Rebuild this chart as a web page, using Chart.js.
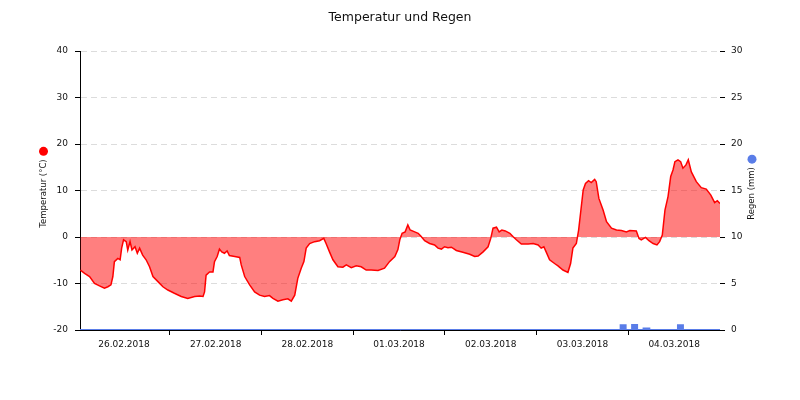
<!DOCTYPE html>
<html>
<head>
<meta charset="utf-8">
<script src="https://cdn.jsdelivr.net/npm/chart.js@4.4.0/dist/chart.umd.min.js"></script>
<style>
  html, body { margin: 0; padding: 0; background: #fff; }
</style>
</head>
<body>
<canvas id="chart" width="800" height="400"></canvas>
<script>
// -------- Data --------
const dayLabels = ['26.02.2018', '27.02.2018', '28.02.2018', '01.03.2018', '02.03.2018', '03.03.2018', '04.03.2018'];

// hours since 26.02.2018 00:00
const tempHours = [
  0.6, 1.7, 3.0, 4.3, 5.6, 6.9, 7.8, 8.6, 9.1, 9.5, 10.4, 11.0, 11.4, 11.9, 12.6, 13.0, 13.6, 14.1, 14.9, 15.5,
  16.1, 16.9, 17.8, 18.7, 19.6, 20.9, 22.2, 23.5, 25.2, 27.0, 28.7, 30.5, 31.8, 32.7, 33.1, 33.5, 34.4, 35.3, 35.7, 36.4,
  37.0, 37.6, 38.3, 39.0, 39.6, 41.0, 42.3, 42.7, 43.6, 44.9, 46.2, 47.5, 48.8, 50.1, 51.0, 52.3, 53.6, 54.9, 55.8, 56.7,
  57.5, 58.4, 59.1, 59.7, 60.6, 61.9, 63.2, 64.3, 64.9, 65.8, 66.7, 68.0, 69.3, 70.2, 71.5, 72.8, 74.1, 75.4, 76.7, 78.5,
  80.2, 81.5, 82.9, 83.7, 84.2, 84.8, 85.6, 86.3, 86.9, 88.1, 89.0, 89.8, 90.7, 92.0, 93.3, 94.2, 95.1, 95.9, 96.8, 97.7,
  99.0, 100.7, 102.5, 103.8, 104.7, 106.0, 107.3, 108.0, 108.6, 109.5, 110.2, 110.9, 111.8, 113.0, 113.8, 114.7, 116.0, 117.8, 119.1, 120.4,
  121.2, 121.9, 122.5, 123.4, 124.7, 125.6, 126.9, 128.2, 128.9, 129.5, 130.4, 131.0, 131.6, 132.2, 132.8, 133.6, 134.3, 135.2, 135.6, 136.3,
  137.4, 138.3, 139.6, 140.9, 142.2, 143.5, 144.4, 146.1, 146.8, 147.4, 148.5, 149.4, 150.5, 151.5, 152.2, 152.9, 153.6, 154.4, 155.1, 155.7,
  156.2, 157.0, 157.7, 158.3, 159.1, 159.7, 160.5, 161.8, 163.1, 164.4, 165.6, 166.6, 167.3, 168.0
];
const tempValues = [
  -7.1, -7.8, -8.5, -10.0, -10.5, -11.0, -10.7, -10.3, -8.5, -5.3, -4.6, -4.9, -2.4, -0.6, -1.0, -2.8, -1.0, -2.8, -2.1, -3.5,
  -2.4, -3.9, -4.9, -6.4, -8.5, -9.6, -10.7, -11.4, -12.1, -12.8, -13.2, -12.8, -12.7, -12.8, -11.8, -8.2, -7.5, -7.5, -5.3, -4.2,
  -2.6, -3.2, -3.5, -3.0, -4.0, -4.2, -4.4, -6.0, -8.5, -10.3, -11.8, -12.5, -12.8, -12.6, -13.2, -13.8, -13.5, -13.3, -13.8, -12.5,
  -8.9, -6.7, -5.3, -2.4, -1.4, -1.0, -0.8, -0.3, -1.4, -3.2, -4.9, -6.4, -6.5, -6.0, -6.6, -6.2, -6.4, -7.1, -7.1, -7.2,
  -6.7, -5.3, -4.2, -2.7, -0.6, 0.8, 1.1, 2.6, 1.5, 1.1, 0.8, 0.1, -0.8, -1.4, -1.7, -2.4, -2.6, -2.1, -2.3, -2.2,
  -2.9, -3.3, -3.7, -4.2, -4.1, -3.2, -2.1, -0.3, 1.9, 2.1, 1.1, 1.5, 1.3, 0.8, 0.1, -0.6, -1.5, -1.5, -1.4, -1.7,
  -2.4, -2.1, -3.2, -4.9, -5.7, -6.2, -7.1, -7.6, -5.7, -2.4, -1.4, 1.5, 5.8, 10.1, 11.5, 12.1, 11.7, 12.4, 11.9, 8.3,
  5.8, 3.3, 1.9, 1.5, 1.4, 1.1, 1.4, 1.3, -0.3, -0.6, -0.1, -0.8, -1.4, -1.7, -1.0, 0.4, 5.8, 8.7, 13.0, 14.4,
  16.2, 16.6, 16.2, 14.8, 15.5, 16.6, 14.0, 11.9, 10.6, 10.3, 9.0, 7.4, 7.8, 7.2
];

const rainHours = [0.5, 142, 143.3, 145, 146.3, 148, 149.5, 157, 158.3, 168];
const rainValues = [0, 0.5, 0, 0.55, 0, 0.15, 0, 0.5, 0, 0];

const tempTicks = { min: -20, max: 40, step: 10 };
const rainTicks = { min: 0, max: 30, step: 5 };

// -------- Style --------
const FONT = '"DejaVu Sans", Verdana, sans-serif';
const RED = '#ff0000';
const BLUE = '#5a7de8';
const GRID = '#dcdcdc';

function toPoints(xs, ys) { return xs.map((x, i) => ({ x, y: ys[i] })); }

// day boundaries get a tick mark, noon gets the date label
function dayTicks() {
  const out = [];
  dayLabels.forEach((_, i) => {
    if (i > 0) out.push({ value: i * 24 });
    out.push({ value: i * 24 + 12 });
  });
  return out;
}

function drawSideTitle(ctx, text, x, y, dotColor) {
  ctx.save();
  ctx.font = `8.5px ${FONT}`;
  const w = ctx.measureText(text).width;
  ctx.translate(x, y);
  ctx.rotate(-Math.PI / 2);
  ctx.fillStyle = '#111';
  ctx.textAlign = 'center';
  ctx.textBaseline = 'middle';
  ctx.fillText(text, 0, 0);
  ctx.restore();
  ctx.beginPath();
  ctx.arc(x, y - w / 2 - 8, 4.5, 0, Math.PI * 2);
  ctx.fillStyle = dotColor;
  ctx.fill();
}

const sideTitles = {
  id: 'sideTitles',
  afterDraw(chart) {
    const { ctx, chartArea } = chart;
    const mid = (chartArea.top + chartArea.bottom) / 2 + 3;
    drawSideTitle(ctx, 'Temperatur (°C)', 43.5, mid, RED);
    drawSideTitle(ctx, 'Regen (mm)', 752, mid, BLUE);
  }
};

// -------- Chart --------
new Chart(document.getElementById('chart'), {
  type: 'line',
  data: {
    datasets: [
      {
        label: 'Temperatur (°C)',
        data: toPoints(tempHours, tempValues),
        yAxisID: 'y',
        borderColor: RED,
        borderWidth: 1.5,
        backgroundColor: 'rgba(255,0,0,0.5)',
        fill: 'origin',
        pointRadius: 0,
        tension: 0
      },
      {
        label: 'Regen (mm)',
        data: toPoints(rainHours, rainValues),
        yAxisID: 'y1',
        stepped: true,
        borderColor: BLUE,
        borderWidth: 2,
        backgroundColor: BLUE,
        fill: 'origin',
        pointRadius: 0,
        clip: false
      }
    ]
  },
  options: {
    responsive: false,
    animation: false,
    layout: { padding: 0 },
    plugins: {
      legend: { display: false },
      tooltip: { enabled: false },
      title: {
        display: true,
        text: 'Temperatur und Regen',
        color: '#111',
        font: { family: FONT, size: 12.5, weight: 'normal', lineHeight: 1.2 },
        padding: { top: 10, bottom: 26 }
      }
    },
    scales: {
      x: {
        type: 'linear',
        min: 0.5,
        max: 168,
        afterBuildTicks: (scale) => { scale.ticks = dayTicks(); },
        afterFit: (scale) => { scale.height = 70; },
        ticks: {
          autoSkip: false,
          maxRotation: 0,
          padding: 4,
          color: '#111',
          font: { family: FONT, size: 9 },
          callback: (v) => (v % 24 === 12 ? dayLabels[(v - 12) / 24] : '')
        },
        grid: {
          drawOnChartArea: false,
          drawTicks: true,
          tickLength: 5,
          tickColor: (ctx) => (ctx.tick && ctx.tick.value % 24 === 0 ? '#000' : 'rgba(0,0,0,0)')
        },
        border: { display: true, color: '#000', width: 1, z: 1 }
      },
      y: {
        position: 'left',
        min: tempTicks.min,
        max: tempTicks.max,
        afterFit: (scale) => { scale.width = 80; },
        ticks: {
          stepSize: tempTicks.step,
          padding: 7,
          color: '#111',
          font: { family: FONT, size: 9 }
        },
        grid: {
          color: GRID,
          tickColor: '#000',
          tickLength: 5,
          drawTicks: true
        },
        border: { display: true, color: '#000', width: 1, dash: [6, 4] }
      },
      y1: {
        position: 'right',
        min: rainTicks.min,
        max: rainTicks.max,
        afterFit: (scale) => { scale.width = 80; },
        ticks: {
          stepSize: rainTicks.step,
          padding: 6,
          color: '#111',
          font: { family: FONT, size: 9 }
        },
        grid: {
          drawOnChartArea: false,
          tickColor: '#000',
          tickLength: 5,
          drawTicks: true
        },
        border: { display: false }
      }
    }
  },
  plugins: [sideTitles]
});
</script>
</body>
</html>
